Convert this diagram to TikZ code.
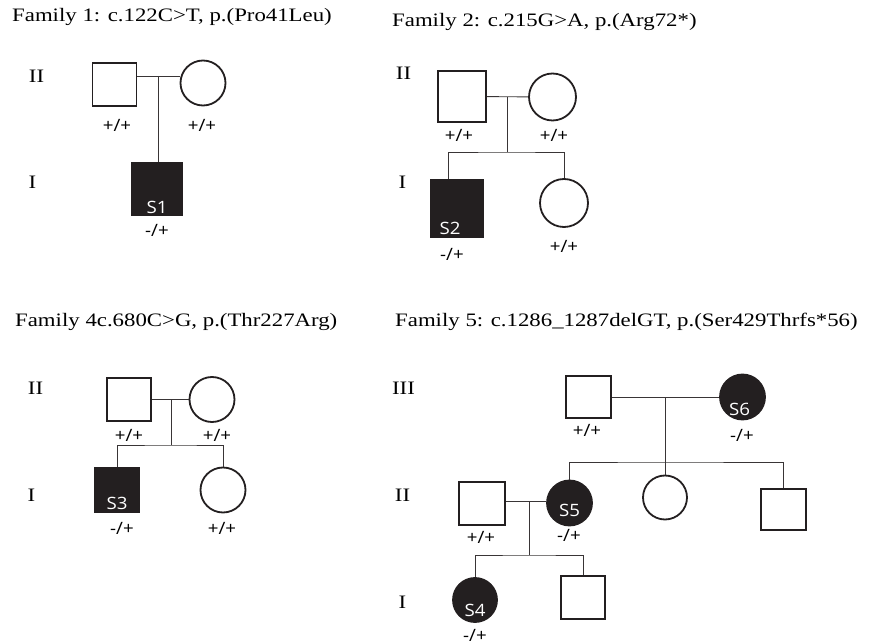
\documentclass[tikz,border=0pt]{standalone}
\usepackage{fontspec}
\setmainfont{Liberation Serif}[FakeStretch=1.2]
\newfontfamily\genofont{Open Sans}[FakeStretch=1.1]
\usetikzlibrary{positioning}
\definecolor{inkblack}{RGB}{35,31,32}
\tikzset{
    malebox/.style={
        rectangle, draw=inkblack, line width=1.8pt, fill=white,
        minimum width=44pt, minimum height=43pt, inner sep=0pt
    },
    femalecirc/.style={
        circle, draw=inkblack, line width=1.8pt, fill=white,
        minimum size=45pt, inner sep=0pt
    },
    affected/.style={fill=inkblack},
    link/.style={draw=inkblack!90, line width=0.9pt},
    geno/.style={font=\genofont\fontsize{17}{18}\selectfont, inner sep=0pt},
    idtext/.style={font=\genofont\fontsize{17}{18}\selectfont, text=white, inner sep=0pt},
    genlabel/.style={font=\fontsize{19}{21}\selectfont, inner sep=0pt},
    famtitle/.style={font=\fontsize{19}{21}\selectfont, inner sep=0pt, anchor=base west}
}

\begin{document}
\begin{tikzpicture}[x=1pt, y=-1pt]
\useasboundingbox (0,0) rectangle (871,644);

% Family 1
\node[famtitle] (t1) at (12,22) {Family 1: c.122C>T, p.(Pro41Leu)};
\node[genlabel] (f1g2) at (36.5,76) {II};
\node[genlabel] (f1g1) at (32.5,182) {I};
\node[malebox] (f1fa) at (114.5,84.5) {};
\node[femalecirc] (f1mo) at (203,83) {};
\node[malebox, affected, minimum width=50pt, minimum height=52pt] (f1s1) at (157,189) {};
\node[idtext, above=2pt of f1s1.south] (f1id) {S1};
\node[geno] (f1gfa) at (117,125) {+/+};
\node[geno] (f1gmo) at (202,125) {+/+};
\node[geno] (f1gs1) at (157,230) {-/+};
\coordinate (f1mid) at (158,76);
\draw[link] (f1fa.east |- f1mid) -- (f1mo.west |- f1mid);
\draw[link] (f1mid) -- (f1s1.north -| f1mid);

% Family 2
\node[famtitle] (t2) at (392,27) {Family 2: c.215G>A, p.(Arg72*)};
\node[genlabel] (f2g2) at (403.5,73) {II};
\node[genlabel] (f2g1) at (402.5,182) {I};
\node[malebox, minimum width=48pt, minimum height=51pt] (f2fa) at (462,96.5) {};
\node[femalecirc, minimum size=47pt] (f2mo) at (552.5,97) {};
\node[malebox, affected, minimum width=52pt, minimum height=57pt] (f2s2) at (457,208.5) {};
\node[femalecirc, minimum size=48pt] (f2da) at (564,203) {};
\node[idtext, above=3pt of f2s2.south, xshift=-7pt] (f2id) {S2};
\node[geno] (f2gfa) at (459,135) {+/+};
\node[geno] (f2gmo) at (554,135) {+/+};
\node[geno] (f2gs2) at (452,254) {-/+};
\node[geno] (f2gda) at (564,246) {+/+};
\coordinate (f2mid) at (507,97);
\coordinate (f2sib) at (507,152);
\draw[link] (f2fa) -- (f2mo);
\draw[link] (f2mid) -- (f2sib);
\draw[link] ([xshift=-9pt]f2s2.north) |- (f2sib) -| (f2da.north);

% Family 4
\node[famtitle] (t4) at (15,327) {Family 4c.680C>G, p.(Thr227Arg)};
\node[genlabel] (f4g2) at (35.5,388) {II};
\node[genlabel] (f4g1) at (31.5,495) {I};
\node[malebox] (f4fa) at (129,399.5) {};
\node[femalecirc] (f4mo) at (212,399.5) {};
\node[malebox, affected, minimum height=44pt] (f4s3) at (117,490) {};
\node[femalecirc] (f4da) at (223,490) {};
\node[idtext, above=3.5pt of f4s3.south] (f4id) {S3};
\node[geno] (f4gfa) at (129,435) {+/+};
\node[geno] (f4gmo) at (217,435) {+/+};
\node[geno] (f4gs3) at (122,528) {-/+};
\node[geno] (f4gda) at (222,528) {+/+};
\coordinate (f4mid) at (171,399.5);
\coordinate (f4sib) at (171,445);
\draw[link] (f4fa) -- (f4mo);
\draw[link] (f4mid) -- (f4sib);
\draw[link] (f4s3.north) |- (f4sib) -| (f4da.north);

% Family 5
\node[famtitle] (t5) at (395,327) {Family 5: c.1286\_1287delGT, p.(Ser429Thrfs*56)};
\node[genlabel] (f5g3) at (403.5,388) {III};
\node[genlabel] (f5g2) at (402.5,495) {II};
\node[genlabel] (f5g1) at (402.5,602) {I};
\node[malebox, minimum width=45pt, minimum height=42pt] (f5gf) at (588.5,397) {};
\node[femalecirc, affected] (f5s6) at (742.5,397) {};
\node[malebox, minimum width=46pt] (f5hu) at (482,503.5) {};
\node[femalecirc, affected] (f5s5) at (569.5,503) {};
\node[femalecirc, minimum size=44pt] (f5da) at (665,497.5) {};
\node[malebox, minimum width=45pt, minimum height=41pt] (f5so) at (783.5,509.5) {};
\node[femalecirc, affected, minimum size=44pt] (f5s4) at (475,600) {};
\node[malebox] (f5so2) at (583,597.5) {};
\node[idtext, above=5pt of f5s6.south, xshift=-3pt] (f5id6) {S6};
\node[idtext, above=9.5pt of f5s5.south] (f5id5) {S5};
\node[idtext, above=6pt of f5s4.south] (f5id4) {S4};
\node[geno] (f5ggf) at (587,430) {+/+};
\node[geno] (f5gs6) at (742,435) {-/+};
\node[geno] (f5ghu) at (481,537) {+/+};
\node[geno] (f5gs5) at (569,535) {-/+};
\node[geno] (f5gs4) at (475,635) {-/+};
\coordinate (f5mid) at (665,398);
\coordinate (f5sib) at (665,462);
\coordinate (f5mid2) at (529,501);
\coordinate (f5sib2) at (529,555);
\draw[link] (f5gf) -- (f5s6);
\draw[link] (f5mid) -- (f5da.north);
\draw[link] (f5s5.north) |- (f5sib) -| (f5so.north);
\draw[link] (f5hu.east |- f5mid2) -- (f5s5.west |- f5mid2);
\draw[link] (f5mid2) -- (f5sib2);
\draw[link] (f5s4.north) |- (f5sib2) -| (f5so2.north);

\end{tikzpicture}
\end{document}
